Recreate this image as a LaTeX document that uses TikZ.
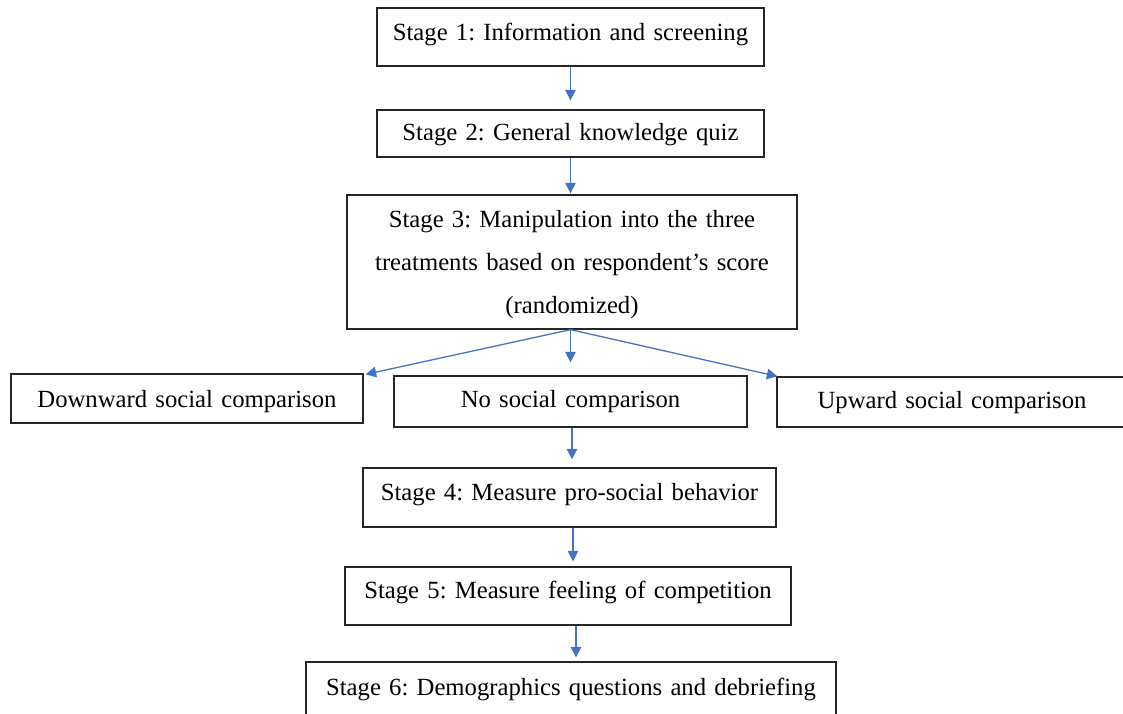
\documentclass[tikz,border=0pt]{standalone}
\usepackage{fontspec}
\setmainfont{Liberation Serif}
\usetikzlibrary{arrows.meta,calc}
\definecolor{arrowblue}{HTML}{4472C4}
\definecolor{boxline}{HTML}{262626}
\tikzset{
  stagebox/.style={draw=boxline, line width=1.3pt, inner xsep=0pt, inner ysep=0pt,
    align=center, anchor=base, font=\frenchspacing\fontsize{24.7}{43}\selectfont},
  arr/.style={draw=arrowblue, line width=1.3pt, -{Triangle[length=10.5pt,width=10.5pt]}}
}
\begin{document}
\begin{tikzpicture}[x=1pt,y=-1pt]
\useasboundingbox (0,0) rectangle (1123,713);
\node[stagebox, text width=387pt, text height=32pt, text depth=26pt] (s1) at (570.5,40) {Stage 1: Information and screening};
\node[stagebox, text width=387pt, text height=30pt, text depth=17pt] (s2) at (570.5,140) {Stage 2: General knowledge quiz};
\node[stagebox, text width=450pt, text height=32pt, text depth=102pt] (s3) at (572,227) {Stage 3: Manipulation into the three\\treatments based on respondent’s score\\(randomized)};
\node[stagebox, text width=352pt, text height=33pt, text depth=16pt] (down) at (187,407) {Downward social comparison};
\node[stagebox, text width=353pt, text height=31pt, text depth=20pt] (none) at (570.5,407) {No social comparison};
\node[stagebox, text width=350pt, text height=31pt, text depth=19pt] (up) at (952,408) {Upward social comparison};
\node[stagebox, text width=413pt, text height=32pt, text depth=27pt] (s4) at (569.5,500) {Stage 4: Measure pro-social behavior};
\node[stagebox, text width=446pt, text height=31pt, text depth=27pt] (s5) at (568,598) {Stage 5: Measure feeling of competition};
\node[stagebox, text width=530pt, text height=33pt, text depth=30pt] (s6) at (571,695) {Stage 6: Demographics questions and debriefing};
\coordinate (fork) at (s3.south -| none.north);
\draw[arr, shorten >=9pt] (s1.south) -- (s1.south |- s2.north);
\draw[arr, shorten >=1pt] (s2.south) -- (s2.south |- s3.north);
\draw[arr] (fork) -- ($(down.north east)+(2,1)$);
\draw[arr, shorten >=13pt] (fork) -- (none.north);
\draw[arr] (fork) -- ($(up.north west)+(1,0)$);
\draw[arr, shorten >=8pt] ([xshift=1.5pt]none.south) -- ([xshift=1.5pt]none.south |- s4.north);
\draw[arr, shorten >=5pt] ([xshift=3.5pt]s4.south) -- ([xshift=3.5pt]s4.south |- s5.north);
\draw[arr, shorten >=4pt] ([xshift=8pt]s5.south) -- ([xshift=8pt]s5.south |- s6.north);
\end{tikzpicture}
\end{document}
